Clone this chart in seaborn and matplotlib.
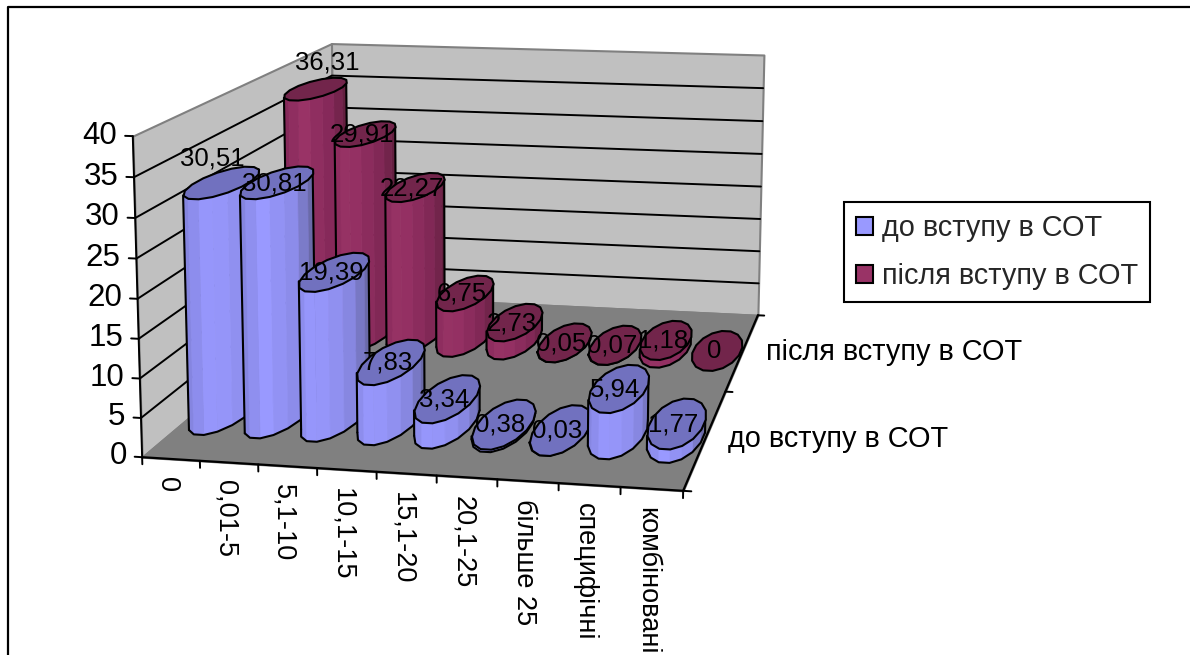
import numpy as np
import matplotlib
matplotlib.use('Agg')
import matplotlib.pyplot as plt
import seaborn as sns
from matplotlib.lines import Line2D
from matplotlib.patches import Patch
from mpl_toolkits.mplot3d import proj3d
from mpl_toolkits.mplot3d.art3d import Poly3DCollection

# Data
categories = ['0', '0,01-5', '5,1-10', '10,1-15', '15,1-20', '20,1-25',
              'більше 25', 'специфічні', 'комбіновані']
series_names = ['до вступу в СОТ', 'після вступу в СОТ']
before_vals = [30.51, 30.81, 19.39, 7.83, 3.34, 0.38, 0.03, 5.94, 1.77]
after_vals = [36.31, 29.91, 22.27, 6.75, 2.73, 0.05, 0.07, 1.18, 0]
z_ticks = [0, 5, 10, 15, 20, 25, 30, 35, 40]

sns.set_theme(style='white')
plt.rcParams['font.family'] = ['Liberation Sans', 'DejaVu Sans']

W, H = 1190, 655
fig = plt.figure(figsize=(W / 100, H / 100), dpi=100)
ax = fig.add_axes([0, 0, 1, 1], projection='3d', computed_zorder=False)
ax.set_xlim(0, 9)
ax.set_ylim(0, 2)
ax.set_zlim(0, 40)
ax.margins(0)
ax.set_autoscale_on(False)

# camera fitted to the corners of the plot box
elev, azim, focal, ay, az, cx, cy, s = 11.649, -78.224, 0.536, 1.352, 0.598, 471.74, 248.044, 850.411
ax.set_position([(cx - s / 2) / W, 1 - (cy + s / 2) / H, s / W, s / H])
ax.view_init(elev=elev, azim=azim)
ax.set_proj_type('persp', focal_length=focal)
ax.set_box_aspect((1, ay, az), zoom=1)
ax.apply_aspect()
ax.set_axis_off()
ax.patch.set_alpha(0)
M = ax.get_proj()

# Text at a 3D data position, drawn flat on the picture
def label(x, y, z, txt, **kw):
    px, py, _ = proj3d.proj_transform(x, y, z, M)
    ax.text2D(px, py, txt, transform=ax.transData, color='black', **kw)

# Walls and floor
def face(verts, fc, ec, z):
    p = Poly3DCollection([verts], facecolors=fc, edgecolors=ec, linewidths=1.5)
    ax.add_collection3d(p, autolim=False)
    p.set_zorder(z)

face([(0, 0, 0), (0, 2, 0), (0, 2, 40), (0, 0, 40)], '#c0c0c0', '#808080', 1)
face([(0, 2, 0), (9, 2, 0), (9, 2, 40), (0, 2, 40)], '#c0c0c0', '#808080', 1)
face([(0, 0, 0), (9, 0, 0), (9, 2, 0), (0, 2, 0)], '#808080', '#808080', 2)

# Gridlines
for v in z_ticks[1:-1]:
    ax.plot([0, 0, 9], [0, 2, 2], [v, v, v], color='black', lw=1.4, zorder=3)

# Axis lines and ticks
ax.plot([0, 0], [0, 0], [0, 40], color='black', lw=1.4, zorder=4)
ax.plot([0, 9, 9], [0, 0, 2], [0, 0, 0], color='black', lw=1.6, zorder=4)
for v in z_ticks:
    ax.plot([-0.13, 0], [0, 0], [v, v], color='black', lw=1.4, zorder=4)
    label(-0.27, 0, v, str(v), ha='right', va='center', fontsize=22.5, zorder=50)
for i in range(len(categories) + 1):
    ax.plot([i, i], [0, 0], [0, -0.9], color='black', lw=1.4, zorder=4)
for i, lab in enumerate(categories):
    label(i + 0.43, 0, -2.3, lab, rotation=270, ha='center', va='top', fontsize=19.5, zorder=50)
for j in range(3):
    ax.plot([9, 9.13], [j, j], [0, 0], color='black', lw=1.4, zorder=4)
for j, lab in enumerate(series_names):
    label(9.38 + 0.08 * j, j + 0.5, 0, lab, ha='left', va='center', fontsize=20.8, zorder=50)

# Cylinders
rx, ry = 0.46, 0.265
n_ring = 16
theta = np.linspace(0, 2 * np.pi, n_ring, endpoint=False) + np.pi / n_ring

styles = [
    {'top': '#7171bf', 'side': ['#8585e0', '#9999ff', '#8c8cea', '#6a6aa8']},
    {'top': '#72254b', 'side': ['#86295a', '#993366', '#86295a', '#642040']},
]

def cylinder(i, row, h, st, z):
    xs = i + 0.5 + rx * np.cos(theta)
    ys = row + 0.5 + ry * np.sin(theta)
    sx, _, _ = proj3d.proj_transform(xs, ys, np.zeros(n_ring), M)
    left, right = int(np.argmin(sx)), int(np.argmax(sx))
    arc = [(left + k) % n_ring for k in range((right - left) % n_ring + 1)]
    cols = sns.blend_palette(st['side'], len(arc) - 1)
    side = [[(xs[a], ys[a], 0), (xs[b], ys[b], 0), (xs[b], ys[b], h), (xs[a], ys[a], h)]
            for a, b in zip(arc[:-1], arc[1:])]
    if h > 0:
        p = Poly3DCollection(side, facecolors=cols, edgecolors=cols, linewidths=0.5)
        ax.add_collection3d(p, autolim=False)
        p.set_zorder(z)
        ax.plot(xs[arc], ys[arc], np.zeros(len(arc)), color='black', lw=1.5, zorder=z + 0.1)
        for a in (left, right):
            ax.plot([xs[a], xs[a]], [ys[a], ys[a]], [0, h], color='black', lw=1.5, zorder=z + 0.1)
    top = Poly3DCollection([list(zip(xs, ys, np.full(n_ring, h)))],
                           facecolors=st['top'], edgecolors='black', linewidths=1.5)
    ax.add_collection3d(top, autolim=False)
    top.set_zorder(z + 0.2)

z = 10
for row, vals in [(1, after_vals), (0, before_vals)]:
    for i, h in enumerate(vals):
        cylinder(i, row, h, styles[row], z)
        # the first label of each row sits above its cylinder
        dx, lift = -0.06, -0.25
        if i == 0:
            dx, lift = (0.25, 3.9) if row == 1 else (-0.17, 3.0)
        label(i + 0.5 + dx, row + 0.5, h + lift, str(h).replace('.', ',') if h else '0',
              ha='center', va='center', fontsize=18.5, zorder=60)
        z += 1

# Legend
handles = [Patch(facecolor='#9999ff', edgecolor='black', lw=1.5),
           Patch(facecolor='#993366', edgecolor='black', lw=1.5)]
fig.legend(handles, series_names, loc='upper left',
           bbox_to_anchor=(844 / W, 1 - 202 / H), bbox_transform=fig.transFigure,
           fontsize=20.8, frameon=True, fancybox=False, framealpha=1, edgecolor='black',
           handlelength=0.59, handleheight=0.62, handletextpad=0.31, labelspacing=0.69,
           borderpad=0.42, borderaxespad=0).get_frame().set_linewidth(1.5)

# Frame of the chart area
fig.add_artist(Line2D([8 / W, 8 / W, 1], [0, 1 - 7 / H, 1 - 7 / H], color='black', lw=1.6))

fig.savefig('out.png', dpi=100)
